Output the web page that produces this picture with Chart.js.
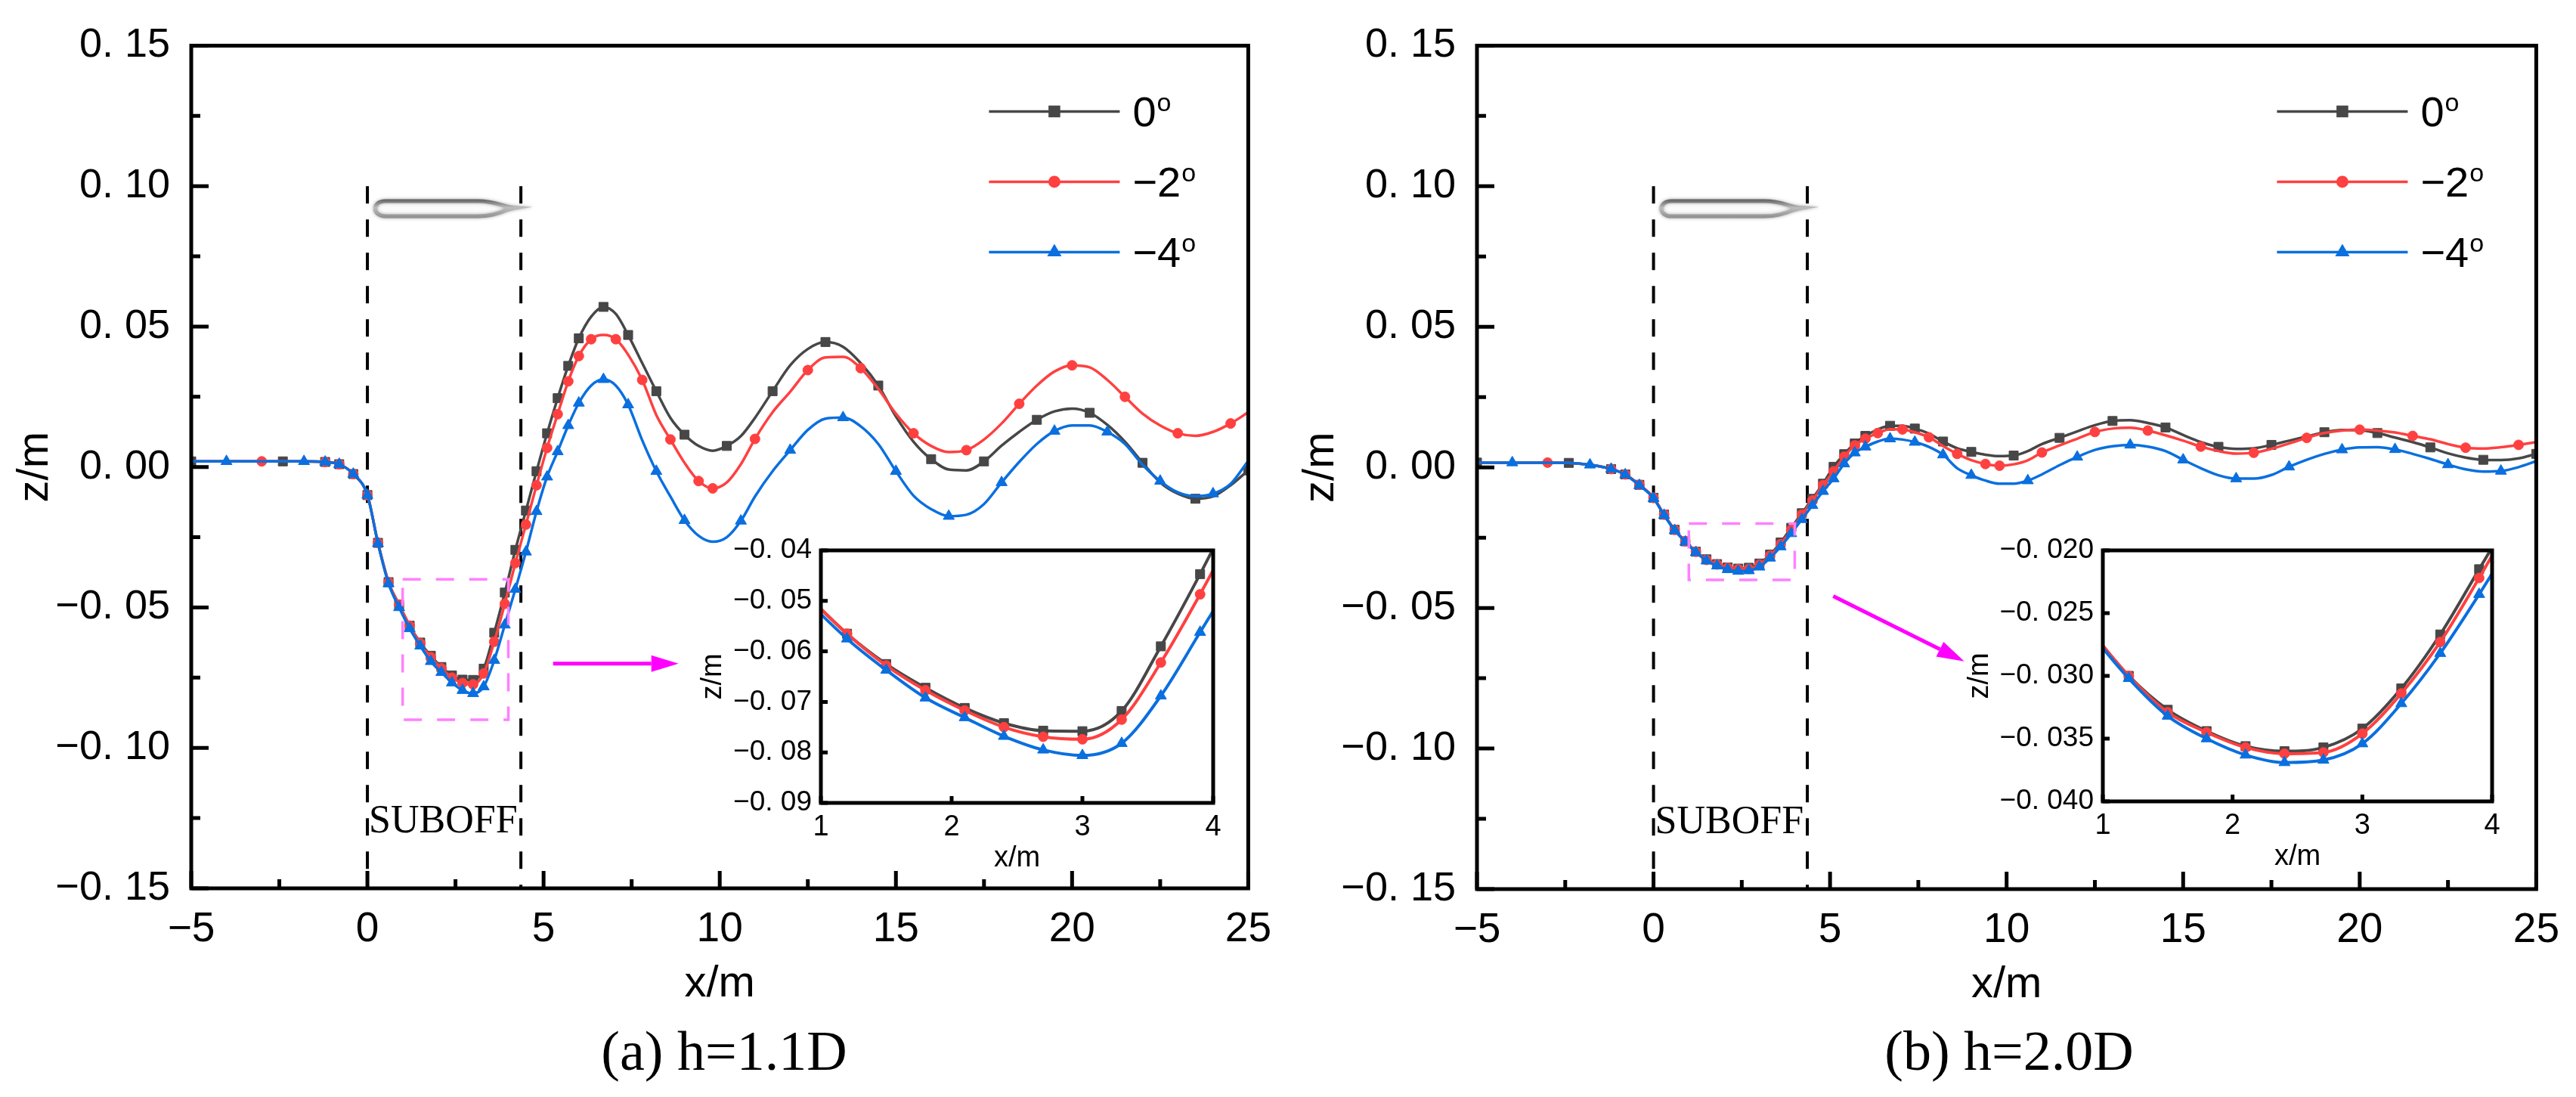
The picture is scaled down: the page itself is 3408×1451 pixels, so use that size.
<!DOCTYPE html>
<html>
<head>
<meta charset="utf-8">
<title>SUBOFF free surface wave profiles</title>
<script src="https://cdn.jsdelivr.net/npm/chart.js@4.4.0/dist/chart.umd.min.js"></script>
<style>
    html, body { margin: 0; padding: 0; background: #fff; }
    body { width: 3408px; height: 1451px; position: relative; overflow: hidden; }
    canvas { position: absolute; }
    .caption {
        position: absolute; top: 1353px; line-height: 1;
        font-family: "Liberation Serif", "Times New Roman", serif;
        font-size: 74px; color: #000; white-space: nowrap;
        transform: translateX(-50%);
    }
</style>
</head>
<body>
<canvas id="mainA" width="1704" height="1451" style="left:0;top:0"></canvas>
<canvas id="mainB" width="1704" height="1451" style="left:1704px;top:0"></canvas>
<canvas id="insetA" width="740" height="480" style="left:900px;top:690px"></canvas>
<canvas id="insetB" width="740" height="480" style="left:2590px;top:690px"></canvas>
<div class="caption" style="left:958px">(a) h=1.1D</div>
<div class="caption" style="left:2658px">(b) h=2.0D</div>

<script>
// --- data (x in m, z in m) ---
const xPos = [-5, -4, -3, -2.4, -1.8, -1.2, -0.8, -0.4, 0, 0.3, 0.6, 0.9, 1.2, 1.5, 1.8, 2.1, 2.4, 2.7, 3.0, 3.3,
    3.6, 3.9, 4.2, 4.5, 4.8, 5.1, 5.4, 5.7, 6.0, 6.35, 6.7, 7.05, 7.4, 7.8, 8.2, 8.6, 9.0, 9.4, 9.8, 10.2,
    10.6, 11.0, 11.5, 12.0, 12.5, 13.0, 13.5, 14.0, 14.5, 15.0, 15.5, 16.0, 16.5, 17.0, 17.5, 18.0, 18.5, 19.0, 19.5, 20.0,
    20.5, 21.0, 21.5, 22.0, 22.5, 23.0, 23.5, 24.0, 24.5, 25.0];

// (a) h = 1.1D
const shallow0 = [0.002, 0.002, 0.002, 0.002, 0.002, 0.0018, 0.001, -0.0025, -0.010, -0.027, -0.041, -0.049, -0.0565, -0.0625, -0.0672, -0.0712, -0.0742, -0.0757, -0.0758, -0.0718,
    -0.059, -0.0447, -0.0295, -0.0155, -0.0015, 0.012, 0.0245, 0.036, 0.0458, 0.0535, 0.057, 0.0545, 0.047, 0.037, 0.027, 0.0175, 0.0115, 0.0075, 0.0058, 0.0075,
    0.011, 0.0175, 0.027, 0.0362, 0.042, 0.0445, 0.0428, 0.037, 0.029, 0.018, 0.009, 0.0028, -0.0009, -0.0012, 0.002, 0.0076, 0.0125, 0.0168, 0.0198, 0.0208,
    0.0193, 0.015, 0.009, 0.0015, -0.0055, -0.0095, -0.0113, -0.0105, -0.0065, -0.0012];
const shallow2 = [0.002, 0.002, 0.002, 0.002, 0.002, 0.0018, 0.001, -0.0025, -0.010, -0.027, -0.041, -0.049, -0.0565, -0.0628, -0.0677, -0.0717, -0.075, -0.0769, -0.0774, -0.0735,
    -0.0622, -0.0487, -0.0342, -0.0205, -0.0065, 0.0068, 0.0188, 0.0305, 0.0395, 0.0455, 0.047, 0.0455, 0.040, 0.031, 0.0185, 0.0098, 0.0015, -0.005, -0.0076, -0.0055,
    0.001, 0.010, 0.0195, 0.0268, 0.0345, 0.039, 0.0392, 0.0352, 0.0278, 0.019, 0.012, 0.0075, 0.0053, 0.006, 0.0098, 0.0155, 0.0225, 0.029, 0.034, 0.0362,
    0.0355, 0.031, 0.025, 0.019, 0.0148, 0.012, 0.0111, 0.0125, 0.0155, 0.0195];
const shallow4 = [0.002, 0.002, 0.002, 0.002, 0.002, 0.0018, 0.001, -0.0025, -0.010, -0.0272, -0.0415, -0.050, -0.0575, -0.0637, -0.0692, -0.0731, -0.0768, -0.0795, -0.0806, -0.0782,
    -0.0688, -0.0562, -0.0435, -0.0302, -0.0158, -0.0035, 0.0055, 0.0148, 0.0228, 0.029, 0.0312, 0.029, 0.0222, 0.0095, -0.0015, -0.0105, -0.019, -0.0245, -0.0266, -0.025,
    -0.0192, -0.0105, -0.0015, 0.006, 0.0132, 0.0172, 0.0176, 0.0145, 0.0082, -0.0015, -0.0102, -0.015, -0.0175, -0.017, -0.0132, -0.0055, 0.0018, 0.0082, 0.0128, 0.0148,
    0.0148, 0.0125, 0.0082, 0.0008, -0.005, -0.009, -0.0104, -0.0095, -0.006, 0.0022];

// (b) h = 2.0D
const deep0 = [0.0017, 0.0017, 0.0017, 0.0016, 0.0009, -0.0006, -0.0025, -0.0062, -0.0108, -0.0168, -0.0222, -0.0263, -0.030, -0.0327, -0.0344, -0.0356, -0.036, -0.0357, -0.0342, -0.031,
    -0.0267, -0.0215, -0.0163, -0.0112, -0.0058, 0.0002, 0.0047, 0.0085, 0.0112, 0.0135, 0.0148, 0.0148, 0.0138, 0.012, 0.0092, 0.0068, 0.0055, 0.0045, 0.004, 0.0042,
    0.0058, 0.0083, 0.0105, 0.0128, 0.015, 0.0165, 0.0168, 0.0158, 0.0142, 0.0115, 0.009, 0.0073, 0.0066, 0.0068, 0.008, 0.0095, 0.011, 0.0125, 0.0133, 0.0132,
    0.0122, 0.0106, 0.009, 0.0071, 0.005, 0.0035, 0.0027, 0.0026, 0.0032, 0.0048];
const deep2 = [0.0017, 0.0017, 0.0017, 0.0016, 0.0009, -0.0006, -0.0025, -0.0062, -0.0108, -0.0168, -0.0222, -0.0263, -0.030, -0.0329, -0.0345, -0.0357, -0.0362, -0.0361, -0.0346, -0.0314,
    -0.0273, -0.0222, -0.0168, -0.0118, -0.0063, -0.0014, 0.0038, 0.0078, 0.0102, 0.0122, 0.0136, 0.0135, 0.0125, 0.0107, 0.0076, 0.0048, 0.0026, 0.0012, 0.0006, 0.0011,
    0.0025, 0.0053, 0.0078, 0.0102, 0.0126, 0.0138, 0.0141, 0.0131, 0.0114, 0.0095, 0.0074, 0.0058, 0.0049, 0.0052, 0.0066, 0.0085, 0.0105, 0.0122, 0.0131, 0.0134,
    0.0131, 0.0124, 0.0112, 0.010, 0.0083, 0.007, 0.0067, 0.0072, 0.008, 0.009];
const deep4 = [0.0017, 0.0017, 0.0017, 0.0016, 0.0009, -0.0006, -0.0026, -0.0064, -0.011, -0.017, -0.0224, -0.0265, -0.0302, -0.0332, -0.035, -0.0363, -0.0369, -0.0367, -0.0354, -0.0322,
    -0.0282, -0.0235, -0.0185, -0.0135, -0.0085, -0.004, 0.0013, 0.0052, 0.0073, 0.0092, 0.0102, 0.0099, 0.009, 0.0073, 0.0045, -0.0003, -0.0028, -0.0047, -0.0058, -0.0058,
    -0.0047, -0.0025, 0.0008, 0.0037, 0.0062, 0.0075, 0.008, 0.0074, 0.0058, 0.0027, -0.0003, -0.0028, -0.004, -0.004, -0.0027, 0.0002, 0.0027, 0.0048, 0.0063, 0.0071,
    0.0072, 0.0064, 0.0048, 0.003, 0.001, -0.0007, -0.0015, -0.0013, 0.0001, 0.0022];

const seriesNames = ['0', '\u22122', '\u22124'];   // pitch angle, degrees

// tick values
const mainXTicks = [-5, 0, 5, 10, 15, 20, 25];
const mainZTicks = [-0.15, -0.10, -0.05, 0, 0.05, 0.10, 0.15];
const insetXTicks = [1, 2, 3, 4];
const insetZTicksA = [-0.09, -0.08, -0.07, -0.06, -0.05, -0.04];
const insetZTicksB = [-0.040, -0.035, -0.030, -0.025, -0.020];

// hull ends of SUBOFF and annotation anchors (data units)
const hullEnds = [0, 4.356];
const hullIcon = { from: 0.21, to: 4.21, z: 0.092 };
const zoomBoxA = { x0: 1, x1: 4, z0: -0.09, z1: -0.04 };
const zoomBoxB = { x0: 1, x1: 4, z0: -0.04, z1: -0.02 };
const arrowA = { from: [5.27, -0.070], to: [8.83, -0.070] };
const arrowB = { from: [5.09, -0.0458], to: [8.80, -0.069] };

// --- style ---
const SANS = '"Liberation Sans", Arial, sans-serif';
const SERIF = '"Liberation Serif", "Times New Roman", serif';
const COLORS = ['#474747', '#ff4040', '#0a6fdf'];
const STYLES = ['rect', 'circle', 'triangle'];
const RADII = [8.5, 6.5, 8.5];

function tickText(v, dec) {
    const s = Math.abs(v).toFixed(dec).replace('.', '. ');
    return (v < -1e-9 ? '\u2212' : '') + s;
}

// markers every point near the hull, sparser downstream
function sparseRadius(r, offset) {
    return function(ctx) {
        if (!ctx.raw) return r;
        const x = ctx.raw.x, i = ctx.dataIndex + offset;
        if (x > -1.5 && x <= 6.1) return r;
        if (x > 6.1 && x < 9.5) return i % 2 === 0 ? r : 0;
        return i % 3 === 0 ? r : 0;
    };
}

function buildDatasets(zSets, inset) {
    return zSets.map((zs, k) => ({
        label: seriesNames[k],
        data: xPos.map((x, i) => ({ x: x, y: zs[i] })),
        borderColor: COLORS[k],
        backgroundColor: COLORS[k],
        pointBackgroundColor: COLORS[k],
        pointBorderColor: COLORS[k],
        pointBorderWidth: 1,
        pointStyle: STYLES[k],
        pointRadius: inset ? RADII[k] : sparseRadius(RADII[k], k),
        borderWidth: inset ? 4 : 3.5,
        cubicInterpolationMode: 'monotone',
        order: 2 - k
    }));
}

// --- frame with inward ticks ---
const framePlugin = {
    id: 'frame',
    beforeDatasetsDraw(chart, args, o) {
        if (!o.fill) return;
        const a = chart.chartArea;
        chart.ctx.save();
        chart.ctx.fillStyle = o.fill;
        chart.ctx.fillRect(a.left, a.top, a.right - a.left, a.bottom - a.top);
        chart.ctx.restore();
    },
    afterDatasetsDraw(chart, args, o) {
        const { ctx, chartArea: a, scales: { x, y } } = chart;
        ctx.save();
        ctx.strokeStyle = '#000';
        ctx.lineWidth = o.width;
        ctx.beginPath();
        const steps = (min, max, st) => {
            const out = [];
            for (let v = min; v <= max + st / 10; v += st) out.push(v);
            return out;
        };
        steps(x.min, x.max, o.xMinor).forEach(v => {
            const major = Math.abs(v / o.xMajor - Math.round(v / o.xMajor)) < 1e-6;
            const px = x.getPixelForValue(v);
            ctx.moveTo(px, a.bottom);
            ctx.lineTo(px, a.bottom - (major ? o.majorLen : o.minorLen));
        });
        steps(y.min, y.max, o.yMinor).forEach(v => {
            const major = Math.abs(v / o.yMajor - Math.round(v / o.yMajor)) < 1e-6;
            const py = y.getPixelForValue(v);
            ctx.moveTo(a.left, py);
            ctx.lineTo(a.left + (major ? o.majorLen : o.minorLen), py);
        });
        ctx.stroke();
        ctx.strokeRect(a.left, a.top, a.right - a.left, a.bottom - a.top);
        ctx.restore();
    }
};

// --- axis titles ---
const titlePlugin = {
    id: 'titles',
    afterDraw(chart, args, o) {
        const { ctx, chartArea: a } = chart;
        ctx.save();
        ctx.fillStyle = '#000';
        ctx.font = o.font;
        ctx.textAlign = 'center';
        ctx.textBaseline = 'alphabetic';
        ctx.fillText('x/m', (a.left + a.right) / 2, a.bottom + o.xOffset);
        ctx.translate(a.left - o.yOffset, (a.top + a.bottom) / 2);
        ctx.rotate(-Math.PI / 2);
        ctx.textBaseline = 'middle';
        ctx.fillText('z/m', 0, 0);
        ctx.restore();
    }
};

function drawDegree(ctx, base, x, y, size) {
    ctx.font = size + 'px ' + SANS;
    ctx.textAlign = 'left';
    ctx.textBaseline = 'alphabetic';
    ctx.fillText(base, x, y);
    const w = ctx.measureText(base).width;
    ctx.font = Math.round(size * 0.6) + 'px ' + SANS;
    ctx.fillText('o', x + w + 1, y - size * 0.36);
}

// --- hull region, zoom box, arrow, legend ---
const decoPlugin = {
    id: 'deco',
    beforeDatasetsDraw(chart) {
        const { ctx, chartArea: a, scales: { x, y } } = chart;
        ctx.save();
        ctx.strokeStyle = '#000';
        ctx.lineWidth = 4;
        ctx.setLineDash([23, 21]);
        hullEnds.forEach(h => {
            const px = x.getPixelForValue(h);
            ctx.beginPath();
            ctx.moveTo(px, y.getPixelForValue(0.10));
            ctx.lineTo(px, a.bottom);
            ctx.stroke();
        });
        ctx.restore();
    },
    afterDraw(chart, args, o) {
        const { ctx, chartArea: a, scales: { x, y } } = chart;
        ctx.save();

        // submarine icon
        const x0 = x.getPixelForValue(hullIcon.from), x1 = x.getPixelForValue(hullIcon.to);
        const cy = y.getPixelForValue(hullIcon.z), hh = 10;
        ctx.beginPath();
        ctx.moveTo(x0 + 14, cy - hh);
        ctx.lineTo(x1 - 50, cy - hh);
        ctx.bezierCurveTo(x1 - 25, cy - hh, x1 - 18, cy - 2, x1, cy - 1);
        ctx.bezierCurveTo(x1 - 18, cy + 2, x1 - 25, cy + hh, x1 - 50, cy + hh);
        ctx.lineTo(x0 + 14, cy + hh);
        ctx.bezierCurveTo(x0 - 4, cy + hh, x0 - 4, cy - hh, x0 + 14, cy - hh);
        ctx.closePath();
        const g = ctx.createLinearGradient(0, cy - hh - 3, 0, cy + hh + 3);
        g.addColorStop(0, '#5a5a5a');
        g.addColorStop(0.45, '#bdbdbd');
        g.addColorStop(1, '#8c8c8c');
        ctx.fillStyle = '#fbfbfb';
        ctx.fill();
        ctx.strokeStyle = g;
        ctx.lineWidth = 5;
        ctx.shadowColor = 'rgba(0,0,0,0.35)';
        ctx.shadowBlur = 4;
        ctx.stroke();
        ctx.shadowBlur = 0;

        // SUBOFF label
        ctx.fillStyle = '#000';
        ctx.font = '52px ' + SERIF;
        ctx.textAlign = 'left';
        ctx.textBaseline = 'middle';
        ctx.fillText('SUBOFF', x.getPixelForValue(hullEnds[0]) + 2, y.getPixelForValue(-0.1265));

        // zoom box
        const b = o.box;
        ctx.strokeStyle = '#ff80ff';
        ctx.lineWidth = 3.5;
        ctx.setLineDash([24, 20]);
        const bx0 = x.getPixelForValue(b.x0), bx1 = x.getPixelForValue(b.x1);
        const by0 = y.getPixelForValue(b.z1), by1 = y.getPixelForValue(b.z0);
        ctx.strokeRect(bx0, by0, bx1 - bx0, by1 - by0);
        ctx.setLineDash([]);

        // arrow to the inset
        const ax0 = x.getPixelForValue(o.arrow.from[0]), ay0 = y.getPixelForValue(o.arrow.from[1]);
        const ax1 = x.getPixelForValue(o.arrow.to[0]), ay1 = y.getPixelForValue(o.arrow.to[1]);
        const ang = Math.atan2(ay1 - ay0, ax1 - ax0), headL = 36, headW = 11;
        ctx.strokeStyle = '#ff00ff';
        ctx.fillStyle = '#ff00ff';
        ctx.lineWidth = 5;
        ctx.beginPath();
        ctx.moveTo(ax0, ay0);
        ctx.lineTo(ax1 - headL * Math.cos(ang), ay1 - headL * Math.sin(ang));
        ctx.stroke();
        ctx.beginPath();
        ctx.moveTo(ax1, ay1);
        ctx.lineTo(ax1 - headL * Math.cos(ang) + headW * Math.sin(ang), ay1 - headL * Math.sin(ang) - headW * Math.cos(ang));
        ctx.lineTo(ax1 - headL * Math.cos(ang) - headW * Math.sin(ang), ay1 - headL * Math.sin(ang) + headW * Math.cos(ang));
        ctx.closePath();
        ctx.fill();

        // legend
        chart.data.datasets.forEach((ds, k) => {
            const ly = a.top + 87 + k * 93;
            const lx0 = a.right - 343, lx1 = a.right - 170;
            ctx.strokeStyle = ds.borderColor;
            ctx.lineWidth = 3.5;
            ctx.beginPath();
            ctx.moveTo(lx0, ly);
            ctx.lineTo(lx1, ly);
            ctx.stroke();
            ctx.fillStyle = ds.borderColor;
            Chart.helpers.drawPoint(ctx, { pointStyle: ds.pointStyle, radius: k === 1 ? 8 : 11, borderWidth: 0, rotation: 0 },
                (lx0 + lx1) / 2, ly);
            ctx.fillStyle = '#000';
            drawDegree(ctx, ds.label, a.right - 153, ly + 20, 56);
        });
        ctx.restore();
    }
};

function axisScale(min, max, values, dec, size, pad, fit, horizontal) {
    return {
        type: 'linear', min: min, max: max,
        afterBuildTicks: s => { s.ticks = values.map(v => ({ value: v })); },
        afterFit: s => { if (horizontal) s.height = fit; else s.width = fit; },
        grid: { display: false, drawTicks: false },
        border: { display: false },
        ticks: {
            autoSkip: false, maxRotation: 0, padding: pad, color: '#000',
            font: { family: SANS, size: size },
            callback: v => tickText(v, dec)
        }
    };
}

function mainChart(id, zSets, layout, box, arrow) {
    return new Chart(document.getElementById(id), {
        type: 'line',
        data: { datasets: buildDatasets(zSets, false) },
        options: {
            responsive: false, animation: false, devicePixelRatio: 1,
            layout: { padding: { top: layout.top, right: layout.right, bottom: 1451 - layout.bottom - 100, left: 0 } },
            plugins: {
                legend: { display: false }, tooltip: { enabled: false },
                frame: { width: 5, xMajor: 5, xMinor: 2.5, yMajor: 0.05, yMinor: 0.025, majorLen: 23, minorLen: 12 },
                titles: { font: '58px ' + SANS, xOffset: 143, yOffset: 206 },
                deco: { box: box, arrow: arrow }
            },
            scales: {
                x: axisScale(-5, 25, mainXTicks, 0, 55, 22, 100, true),
                y: axisScale(-0.15, 0.15, mainZTicks, 2, 54, 28, layout.yAxisW, false)
            }
        },
        plugins: [framePlugin, titlePlugin, decoPlugin]
    });
}

function insetChart(id, zSets, zMin, zMax, zTicks, dec, layout) {
    return new Chart(document.getElementById(id), {
        type: 'line',
        data: { datasets: buildDatasets(zSets, true) },
        options: {
            responsive: false, animation: false, devicePixelRatio: 1,
            layout: { padding: { top: 38, right: layout.right, bottom: 28, left: 0 } },
            plugins: {
                legend: { display: false }, tooltip: { enabled: false },
                frame: { width: 5, fill: '#fff', xMajor: 1, xMinor: 1, yMajor: zTicks[1] - zTicks[0], yMinor: zTicks[1] - zTicks[0], majorLen: 9, minorLen: 9 },
                titles: { font: '38px ' + SANS, xOffset: 84, yOffset: layout.zTitle }
            },
            scales: {
                x: axisScale(1, 4, insetXTicks, 0, 38, 10, layout.xAxisH, true),
                y: axisScale(zMin, zMax, zTicks, dec, 37, 12, layout.yAxisW, false)
            }
        },
        plugins: [framePlugin, titlePlugin]
    });
}

document.addEventListener('DOMContentLoaded', function() {
    mainChart('mainA', [shallow0, shallow2, shallow4],
        { top: 36, right: 34, bottom: 1175, yAxisW: 253 }, zoomBoxA, arrowA);
    mainChart('mainB', [deep0, deep2, deep4],
        { top: 40, right: 45, bottom: 1176, yAxisW: 250 }, zoomBoxB, arrowB);
    insetChart('insetA', [shallow0, shallow2, shallow4], -0.09, -0.04, insetZTicksA, 2,
        { right: 35, xAxisH: 80, yAxisW: 186, zTitle: 142 });
    insetChart('insetB', [deep0, deep2, deep4], -0.040, -0.020, insetZTicksB, 3,
        { right: 33, xAxisH: 82, yAxisW: 192, zTitle: 162 });
});
</script>
</body>
</html>
